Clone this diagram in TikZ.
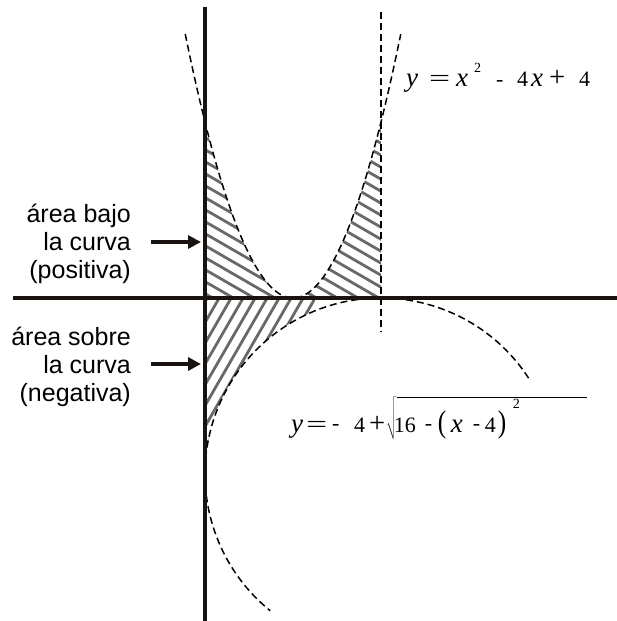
\documentclass[tikz,border=0pt]{standalone}
\usepackage{fix-cm}
\usepackage{fontspec}
\setmainfont{Liberation Serif}
\newfontfamily\labelsans{Liberation Sans}
\usepackage{graphicx}
\usetikzlibrary{arrows.meta}
\newcommand\at[2]{\rlap{\hspace*{#1pt}#2}}
\newcommand\mv[1]{{\fontsize{27}{27}\selectfont\itshape #1}}
\newcommand\eqsign{\scalebox{1.7}[1.1]{=}}
\newcommand\plussign{\scalebox{1.3}{+}}
\newcommand\supr[2]{\raisebox{#1pt}{\fontsize{14}{14}\selectfont #2}}
\newcommand\lpar{\scalebox{1.15}[1.42]{(}}
\newcommand\rpar{\scalebox{1.15}[1.42]{)}}
\definecolor{hatchgray}{RGB}{105,105,105}
\definecolor{axisblack}{RGB}{25,20,18}
\tikzset{
  axisline/.style={line width=4pt, draw=axisblack},
  curve/.style={line width=1.5pt, dash pattern=on 7pt off 4pt},
  hatchline/.style={line width=2.8pt, draw=hatchgray},
  ptr/.style={line width=4pt, draw=axisblack, -{Triangle[length=13pt,width=13pt]}},
  lbl/.style={font=\labelsans\fontsize{25}{28}\selectfont, align=right, inner sep=0pt},
  eqtext/.style={font=\fontsize{22}{22}\selectfont, inner sep=0pt, anchor=base west}
}
\begin{document}
\begin{tikzpicture}[x=1pt,y=-1pt]
\useasboundingbox (0,0) rectangle (617,621);
% math part
\begin{scope}[shift={(205pt,-298pt)}, x=44pt, y=44pt]
  % upper hatched region (between axis and parabola)
  \begin{scope}
    \clip (0,0) -- plot[domain=0:4,samples=80] (\x,{(\x-2)^2}) -- (4,0) -- cycle;
    \foreach \c in {0.10,0.3727,...,7.2}
      \draw[hatchline] (-0.5,{\c+0.2887}) -- (4.5,{\c-2.598});
  \end{scope}
  % lower hatched region (between axis and circle)
  \begin{scope}
    \clip (-1,1) rectangle (2.5,-5);
    \clip (0,0) -- (0,-4) arc[start angle=180,end angle=90,radius=4] -- cycle;
    \foreach \d in {0.05,0.3227,...,5}
      \draw[hatchline] ({\d-2.6},-4.503) -- ({\d+0.3},0.520);
  \end{scope}
  % curves
  \draw[curve] plot[domain=-0.45:4.45,samples=100] (\x,{(\x-2)^2});
  \draw[curve] (4,-4) ++(33:4) arc[start angle=33,end angle=231,radius=4];
  \coordinate (vtop) at (4,6.5);
  \coordinate (vbot) at (4,-0.77);
  \draw[line width=1.5pt, dash pattern=on 7pt off 4pt] (vtop) -- (vbot);
\end{scope}
% axes
\coordinate (ytop) at (205,7);
\coordinate (ybot) at (205,621);
\coordinate (xleft) at (13,298);
\coordinate (xright) at (617,298);
\draw[axisline] (ytop) -- (ybot);
\draw[axisline] (xleft) -- (xright);
% labels
\node[lbl, anchor=base east] (pos) at (131,278) {área bajo\\la curva\\(positiva)};
\node[lbl, anchor=base east] (neg) at (131,401) {área sobre\\la curva\\(negativa)};
\coordinate (a1s) at (151,242);
\coordinate (a1e) at (201,242);
\coordinate (a2s) at (151,364);
\coordinate (a2e) at (201,364);
\draw[ptr] (a1s) -- (a1e);
\draw[ptr] (a2s) -- (a2e);
% equations
\node[eqtext] (eq1) at (406,86) {\at{0}{\mv{y}}\at{23}{\eqsign}\at{50}{\mv{x}}\at{68}{\supr{14}{2}}\at{90}{-}\at{111}{4}\at{125}{\mv{x}}\at{143}{\plussign}\at{173}{4}\hspace*{187pt}};
\node[eqtext] (eq2) at (291,432) {\at{0}{\mv{y}}\at{15}{\eqsign}\at{41}{\raisebox{2pt}{-}}\at{63}{4}\at{78}{\plussign}\at{95}{$\sqrt{\vrule height 31pt depth 6pt width 0pt\at{-3}{16}\at{28}{\raisebox{2pt}{-}}\at{41}{\lpar}\at{54}{\mv{x}}\at{76}{\raisebox{2pt}{-}}\at{88}{4}\at{101}{\rpar}\at{116}{\supr{24}{2}}\hspace*{190pt}}$}\hspace*{306pt}};
\end{tikzpicture}
\end{document}
